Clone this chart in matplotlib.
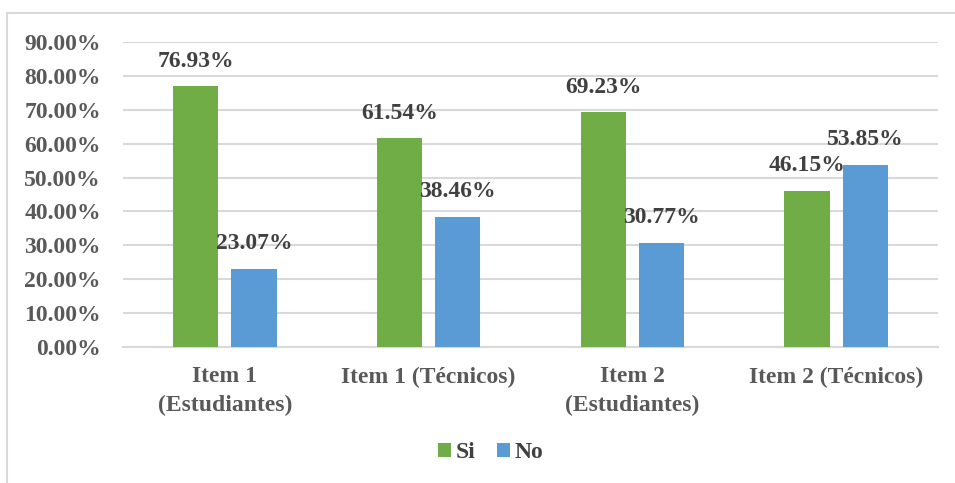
import matplotlib
matplotlib.use("Agg")
import matplotlib.pyplot as plt
import numpy as np
from matplotlib.lines import Line2D

categories = ["Item 1\n(Estudiantes)", "Item 1 (Técnicos)", "Item 2\n(Estudiantes)", "Item 2 (Técnicos)"]
si_values = [0.7693, 0.6154, 0.6923, 0.4615]
no_values = [0.2307, 0.3846, 0.3077, 0.5385]
series_names = ["Si", "No"]
yticks = [0.0, 0.1, 0.2, 0.3, 0.4, 0.5, 0.6, 0.7, 0.8, 0.9]

plt.rcParams['font.family'] = ['Liberation Serif', 'DejaVu Serif']
plt.rcParams['font.weight'] = 'bold'

W, H = 955, 483
fig = plt.figure(figsize=(W / 100, H / 100), dpi=100)
ax = fig.add_axes([123 / W, (H - 347) / H, (938 - 123) / W, (347 - 42) / H])

green = "#70AD47"
blue = "#5B9BD5"
fs = 17
x = np.arange(len(categories))
bw = 0.221
off = 0.143
b1 = ax.bar(x - off, si_values, bw, color=green, label=series_names[0], zorder=3)
b2 = ax.bar(x + off, no_values, bw, color=blue, label=series_names[1], zorder=3)

ax.set_xlim(-0.5, len(categories) - 0.5)
ax.set_ylim(0, 0.9)
ax.set_yticks(yticks)
ax.set_yticklabels([f"{v*100:.2f}%" for v in yticks], fontsize=fs, color="#595959", fontweight='bold')
ax.set_xticks(x)
ax.set_xticklabels(categories, fontsize=fs, color="#595959", fontweight='bold', linespacing=1.45)
ax.tick_params(axis='y', length=0, pad=16)
ax.tick_params(axis='x', length=0, pad=14)
ax.grid(axis='y', color="#D9D9D9", linewidth=1.5, zorder=0)
for s in ["top", "right", "left"]:
    ax.spines[s].set_visible(False)
ax.spines["bottom"].set_color("#D9D9D9")
ax.spines["bottom"].set_linewidth(1.5)

for bars, vals in ((b1, si_values), (b2, no_values)):
    for rect, v in zip(bars, vals):
        ax.annotate(f"{v*100:.2f}%", (rect.get_x() + rect.get_width() / 2, v),
                    xytext=(0, 18), textcoords="offset points", ha="center", va="center",
                    fontsize=fs, fontweight='bold', color="#404040", zorder=4)

leg = fig.legend(handles=[b1, b2], labels=series_names, loc="center", bbox_to_anchor=(491 / W, (H - 453) / H),
                 ncol=2, frameon=False, fontsize=fs, handlelength=0.55, handleheight=0.55,
                 handletextpad=0.2, columnspacing=0.9)
for t in leg.get_texts():
    t.set_color("#404040")
    t.set_fontweight('bold')

# chart border (top and left visible)
fig.add_artist(Line2D([7 / W, 1.0], [(H - 12.5) / H, (H - 12.5) / H], color="#D9D9D9", linewidth=1.5))
fig.add_artist(Line2D([7 / W, 7 / W], [0, (H - 12.5) / H], color="#D9D9D9", linewidth=1.5))

fig.savefig("out.png", dpi=100, facecolor="white")
